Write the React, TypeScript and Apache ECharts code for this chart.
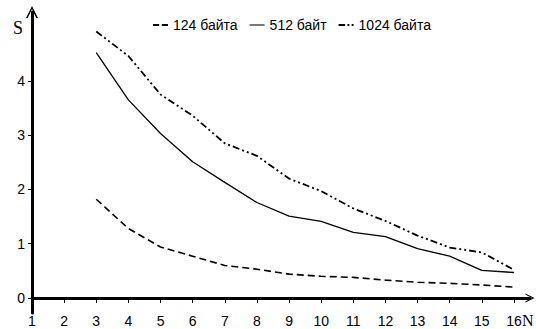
import React, { useEffect, useRef } from "react";
import * as echarts from "echarts";

const nValues = [3, 4, 5, 6, 7, 8, 9, 10, 11, 12, 13, 14, 15, 16];
const s124 = [1.82, 1.28, 0.94, 0.77, 0.6, 0.53, 0.44, 0.4, 0.38, 0.33, 0.29, 0.27, 0.24, 0.2];
const s512 = [4.52, 3.65, 3.03, 2.51, 2.13, 1.76, 1.51, 1.41, 1.21, 1.13, 0.91, 0.77, 0.51, 0.47];
const s1024 = [4.91, 4.46, 3.75, 3.36, 2.85, 2.62, 2.2, 1.97, 1.65, 1.42, 1.15, 0.93, 0.84, 0.52];
const seriesNames = ["124 байта", "512 байт", "1024 байта"];
const xTicks = [1, 2, 3, 4, 5, 6, 7, 8, 9, 10, 11, 12, 13, 14, 15, 16];
const yTicks = [0, 1, 2, 3, 4];

const FONT = "'Liberation Sans Narrow', 'Arial Narrow', 'Liberation Sans', Arial, sans-serif";
const SERIF = "'Liberation Serif', 'Times New Roman', serif";
const chevron = "path://M0,10 L5,0 L10,10 L8.6,10 L5,2.6 L1.4,10 Z";
const legendIcons = [
  "path://M0,0 L7,0 L7,2 L0,2 Z M10,0 L17,0 L17,2 L10,2 Z",
  "path://M0,0.4 L17,0.4 L17,1.6 L0,1.6 Z",
  "path://M0,0 L7,0 L7,2 L0,2 Z M9.5,0 L11.5,0 L11.5,2 L9.5,2 Z M14,0 L16,0 L16,2 L14,2 Z",
];

export default function App() {
  const ref = useRef<HTMLDivElement>(null);
  useEffect(() => {
    if (!ref.current) return;
    const chart = echarts.init(ref.current, undefined, { renderer: "svg" });
    const pairs = (arr: number[]) => nValues.map((n, i) => [n, arr[i]]);
    const dashTypes: any[] = [[7, 4], "solid", [7, 3, 2, 3, 2, 3]];
    const widths = [1.6, 1.3, 1.8];
    const datas = [s124, s512, s1024];
    const axisBlack = { color: "#000", width: 3 };
    chart.setOption({
      animation: false,
      backgroundColor: "#fff",
      textStyle: { fontFamily: FONT },
      legend: {
        left: 153,
        top: 18,
        padding: 0,
        itemWidth: 15,
        itemHeight: 2,
        itemGap: 12,
        textStyle: { fontFamily: FONT, fontSize: 14, color: "#000" },
        data: seriesNames.map((n, i) => ({ name: n, icon: legendIcons[i] })),
      },
      grid: [
        { left: 32, right: 6, top: 12, bottom: 31, containLabel: false, outerBoundsMode: "none" },
        { left: 32, width: 10, top: 298, bottom: 16, containLabel: false, outerBoundsMode: "none" },
      ],
      xAxis: [
        {
          type: "value",
          gridIndex: 0,
          min: 1,
          max: 16.5,
          axisLine: {
            show: true,
            lineStyle: axisBlack,
            symbol: ["none", chevron],
            symbolSize: [16, 9],
          },
          axisTick: {
            show: true,
            length: 5,
            lineStyle: { color: "#000", width: 1 },
            customValues: xTicks,
          },
          axisLabel: {
            customValues: xTicks,
            margin: 16,
            fontSize: 14,
            fontFamily: FONT,
            color: "#000",
          },
          splitLine: { show: false },
        },
        {
          type: "value",
          gridIndex: 1,
          show: false,
          min: 0,
          max: 1,
        },
      ],
      yAxis: [
        {
          type: "value",
          gridIndex: 0,
          min: 0,
          max: 5.27,
          axisLine: {
            show: true,
            lineStyle: axisBlack,
            symbol: ["none", chevron],
            symbolSize: [16, 12],
          },
          axisTick: {
            show: true,
            length: 4,
            lineStyle: { color: "#000", width: 1 },
            customValues: yTicks,
          },
          axisLabel: {
            customValues: yTicks,
            margin: 7,
            fontSize: 14,
            fontFamily: FONT,
            color: "#000",
          },
          splitLine: { show: false },
        },
        {
          type: "value",
          gridIndex: 1,
          min: 0,
          max: 1,
          axisLine: { show: true, lineStyle: axisBlack },
          axisTick: { show: false },
          axisLabel: { show: false },
          splitLine: { show: false },
        },
      ],
      graphic: [
        {
          type: "text",
          left: 13,
          top: 19,
          style: { text: "S", font: `18px ${SERIF}`, fill: "#000" },
        },
        {
          type: "text",
          left: 522,
          top: 312,
          style: { text: "N", font: `16px ${SERIF}`, fill: "#000" },
        },
      ],
      series: datas.map((d, i) => ({
        name: seriesNames[i],
        type: "line",
        xAxisIndex: 0,
        yAxisIndex: 0,
        data: pairs(d),
        showSymbol: false,
        symbol: "none",
        lineStyle: { color: "#000", width: widths[i], type: dashTypes[i] },
        itemStyle: { color: "#000" },
      })),
    });
    return () => chart.dispose();
  }, []);
  return <div ref={ref} style={{ width: 536, height: 329, position: "absolute", left: 0, top: 0 }} />;
}
